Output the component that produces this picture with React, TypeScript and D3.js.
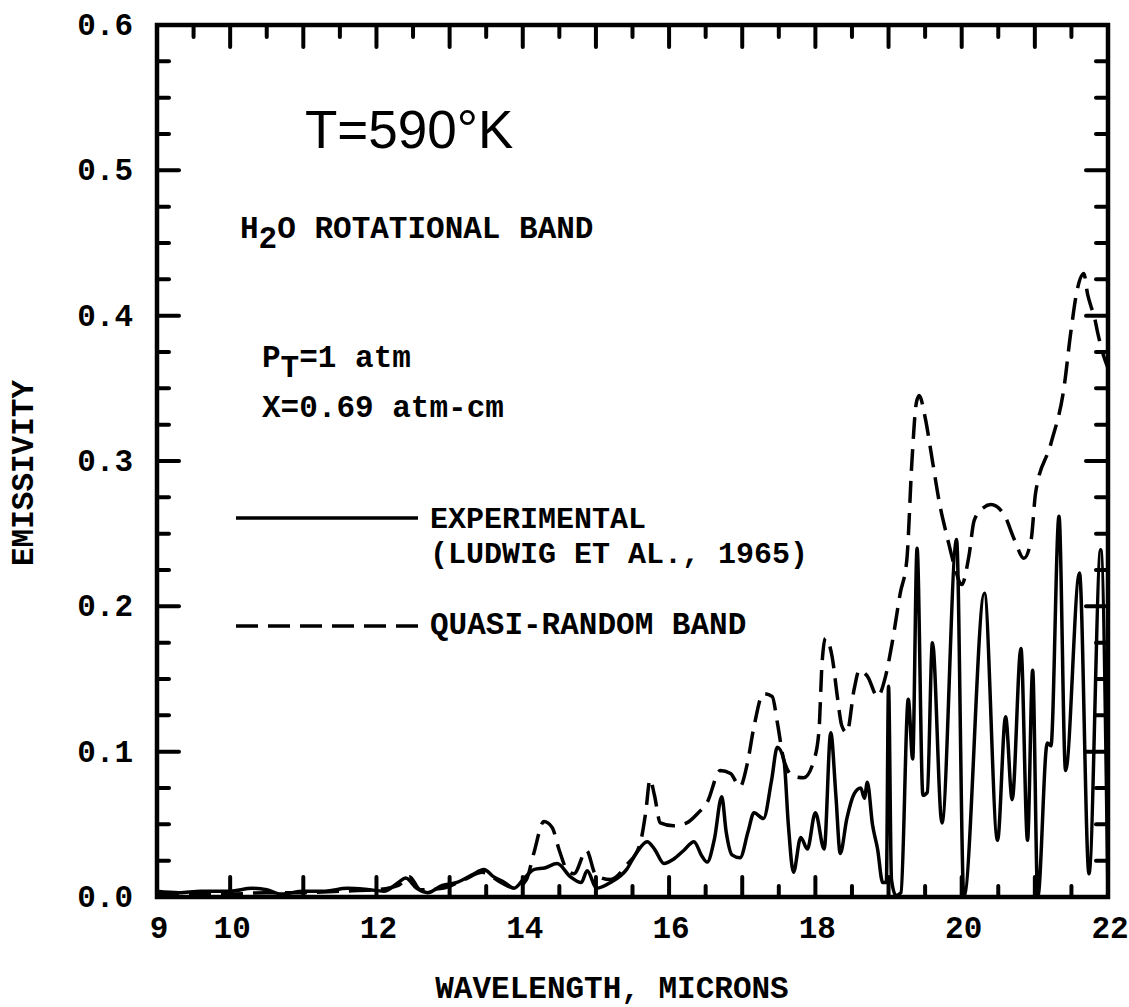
import React from "react";
import * as d3 from "d3";

// Experimental emissivity (Ludwig et al., 1965)
const expWavelength = [
  9.0, 9.3, 9.6, 10.0, 10.3, 10.5, 10.7, 11.0, 11.3, 11.6, 11.9, 12.1, 12.3, 12.4, 12.55, 12.7, 12.9,
  13.1, 13.3, 13.47, 13.6, 13.75, 13.88, 14.02, 14.16, 14.3, 14.47, 14.65, 14.8, 14.88, 15.01, 15.2,
  15.42, 15.55, 15.7, 15.8, 15.93, 16.06, 16.2, 16.34, 16.45, 16.52, 16.62, 16.72, 16.78, 16.86, 16.97,
  17.08, 17.16, 17.29, 17.4, 17.48, 17.57, 17.63, 17.7, 17.8, 17.89, 18.0, 18.12, 18.21, 18.28, 18.34,
  18.43, 18.53, 18.62, 18.67, 18.71, 18.78, 18.85, 18.92, 18.97, 19.0, 19.04, 19.1, 19.17, 19.27, 19.33,
  19.39, 19.47, 19.53, 19.6, 19.73, 19.93, 20.03, 20.31, 20.49, 20.6, 20.69, 20.81, 20.9, 20.97, 21.04,
  21.17, 21.22, 21.33, 21.42, 21.61, 21.74, 21.9, 22.0,
];
const expEmissivity = [
  0.004, 0.003, 0.004, 0.004, 0.006, 0.005, 0.002, 0.004, 0.004, 0.006, 0.005, 0.004, 0.01, 0.013, 0.006,
  0.003, 0.008, 0.01, 0.015, 0.019, 0.014, 0.01, 0.006, 0.013, 0.019, 0.02, 0.023, 0.014, 0.01, 0.018,
  0.006, 0.01, 0.019, 0.03, 0.038, 0.033, 0.023, 0.026, 0.032, 0.038, 0.028, 0.024, 0.04, 0.069, 0.045,
  0.029, 0.027, 0.045, 0.058, 0.054, 0.08, 0.103, 0.094, 0.05, 0.017, 0.041, 0.033, 0.058, 0.033, 0.113,
  0.07, 0.03, 0.054, 0.071, 0.075, 0.068, 0.079, 0.05, 0.033, 0.01, 0.01, 0.145, 0.012, 0.001, 0.003,
  0.136, 0.095, 0.24, 0.07, 0.072, 0.175, 0.051, 0.246, 0.0, 0.209, 0.039, 0.124, 0.067, 0.171, 0.039,
  0.156, 0.0, 0.106, 0.104, 0.262, 0.087, 0.223, 0.016, 0.239, 0.0,
];

// Quasi-random band model
const qrbWavelength = [
  9.0, 9.5, 10.0, 10.5, 11.0, 11.5, 12.0, 12.3, 12.45, 12.6, 12.9, 13.2, 13.45, 13.7, 13.9, 14.05, 14.15,
  14.29, 14.4, 14.5, 14.6, 14.7, 14.87, 15.0, 15.2, 15.42, 15.6, 15.68, 15.74, 15.8, 15.88, 16.06, 16.24,
  16.4, 16.52, 16.7, 16.84, 16.97, 17.07, 17.16, 17.29, 17.41, 17.48, 17.57, 17.7, 17.84, 17.98, 18.05,
  18.09, 18.14, 18.23, 18.3, 18.36, 18.43, 18.53, 18.6, 18.71, 18.85, 18.96, 19.05, 19.16, 19.25, 19.32,
  19.38, 19.42, 19.5, 19.6, 19.7, 19.8, 19.9, 20.0, 20.1, 20.17, 20.3, 20.4, 20.58, 20.72, 20.85, 20.95,
  21.01, 21.22, 21.4, 21.49, 21.58, 21.67, 21.72, 21.77, 21.81, 21.86, 21.93, 22.0,
];
const qrbEmissivity = [
  0.002, 0.002, 0.002, 0.003, 0.003, 0.004, 0.005, 0.008, 0.014, 0.005, 0.006, 0.012, 0.017, 0.01, 0.006,
  0.012, 0.03, 0.052, 0.048, 0.032, 0.019, 0.016, 0.032, 0.015, 0.012, 0.022, 0.036, 0.058, 0.081, 0.07,
  0.051, 0.049, 0.051, 0.058, 0.065, 0.087, 0.085, 0.076, 0.092, 0.117, 0.14, 0.138, 0.12, 0.094, 0.083,
  0.082, 0.094, 0.115, 0.16, 0.178, 0.165, 0.138, 0.118, 0.113, 0.143, 0.156, 0.152, 0.138, 0.152, 0.175,
  0.209, 0.232, 0.3, 0.34, 0.345, 0.33, 0.3, 0.27, 0.248, 0.228, 0.215, 0.235, 0.259, 0.268, 0.27, 0.263,
  0.246, 0.233, 0.246, 0.278, 0.312, 0.351, 0.388, 0.418, 0.429, 0.415, 0.406, 0.4, 0.388, 0.374, 0.364,
];

const xTickLabels = [9, 10, 12, 14, 16, 18, 20, 22];
const yTickLabels = [0, 0.1, 0.2, 0.3, 0.4, 0.5, 0.6];

const W = 1129;
const H = 1007;
const left = 157;
const right = 1108;
const top = 25;
const bottom = 897;

const mono = "'Liberation Mono', 'DejaVu Sans Mono', monospace";

export default function App() {
  const x = d3.scaleLinear().domain([9, 22]).range([left, right]);
  const y = d3.scaleLinear().domain([0, 0.6]).range([bottom, top]);

  const line = d3
    .line<[number, number]>()
    .x((d) => x(d[0]))
    .y((d) => y(d[1]))
    .curve(d3.curveMonotoneX);

  const expPts: [number, number][] = expWavelength.map((w, i) => [w, expEmissivity[i]]);
  const qrbPts: [number, number][] = qrbWavelength.map((w, i) => [w, qrbEmissivity[i]]);

  const xMinor = d3.range(9, 22.01, 0.5);
  const yMinor = d3.range(0, 0.6001, 0.025);

  const isInt = (v: number) => Math.abs(v - Math.round(v)) < 1e-6;
  const isTenth = (v: number) => Math.abs(v * 10 - Math.round(v * 10)) < 1e-6;

  return (
    <svg
      width={W}
      height={H}
      style={{ position: "absolute", left: 0, top: 0, background: "#fff" }}
      fontFamily={mono}
    >
      <rect x={0} y={0} width={W} height={H} fill="#fff" />

      {/* frame ticks */}
      <g stroke="#000" strokeWidth={4} strokeLinecap="round">
        {xMinor.map((v) => {
          const len = isInt(v) ? 22 : 12;
          return <line key={"t" + v} x1={x(v)} x2={x(v)} y1={top} y2={top + len} />;
        })}
        {xMinor
          .filter((v) => isInt(v) || v > 13)
          .map((v) => {
            const len = isInt(v) ? 20 : 11;
            return <line key={"b" + v} x1={x(v)} x2={x(v)} y1={bottom} y2={bottom - len} />;
          })}
        {yMinor.map((v) => {
          const len = isTenth(v) ? 22 : 12;
          return (
            <g key={"y" + v}>
              <line x1={left} x2={left + len} y1={y(v)} y2={y(v)} />
              <line x1={right} x2={right - len} y1={y(v)} y2={y(v)} />
            </g>
          );
        })}
      </g>

      {/* curves */}
      <path
        d={line(qrbPts) || ""}
        fill="none"
        stroke="#000"
        strokeWidth={3.5}
        strokeDasharray="22 10"
        strokeLinejoin="round"
      />
      <path
        d={line(expPts) || ""}
        fill="none"
        stroke="#000"
        strokeWidth={3.5}
        strokeLinejoin="round"
      />

      {/* frame */}
      <rect
        x={left}
        y={top}
        width={right - left}
        height={bottom - top}
        fill="none"
        stroke="#000"
        strokeWidth={4.5}
      />

      {/* tick labels */}
      <g fontSize={31} fontWeight="bold" fill="#000">
        {xTickLabels.map((v) => (
          <text key={"xl" + v} x={x(v) + 2} y={938} textAnchor="middle">
            {v}
          </text>
        ))}
        {yTickLabels.map((v) => (
          <text key={"yl" + v} x={133} y={y(v) + 10} textAnchor="end">
            {v.toFixed(1)}
          </text>
        ))}
      </g>

      {/* axis titles */}
      <text x={612} y={998} textAnchor="middle" fontSize={31} fontWeight="bold">
        WAVELENGTH, MICRONS
      </text>
      <text
        transform="translate(33,473) rotate(-90)"
        textAnchor="middle"
        fontSize={31}
        fontWeight="bold"
      >
        EMISSIVITY
      </text>

      {/* annotations */}
      <text x={305} y={148} fontFamily="'Liberation Sans', Arial, sans-serif" fontSize={53}>
        T=590°K
      </text>
      <text x={240} y={238} fontSize={31} fontWeight="bold">
        H<tspan dy={10}>2</tspan>
        <tspan dy={-10}>O ROTATIONAL BAND</tspan>
      </text>
      <text x={262} y={367} fontSize={31} fontWeight="bold">
        P<tspan dy={10}>T</tspan>
        <tspan dy={-10}>=1 atm</tspan>
      </text>
      <text x={262} y={417} fontSize={31} fontWeight="bold">
        X=0.69 atm-cm
      </text>

      {/* legend */}
      <line x1={236} x2={418} y1={518} y2={518} stroke="#000" strokeWidth={3.5} />
      <text x={430} y={528} fontSize={30} fontWeight="bold">
        EXPERIMENTAL
      </text>
      <text x={430} y={563} fontSize={30} fontWeight="bold">
        (LUDWIG ET AL., 1965)
      </text>
      <line
        x1={236}
        x2={418}
        y1={626}
        y2={626}
        stroke="#000"
        strokeWidth={3.5}
        strokeDasharray="22 10"
      />
      <text x={430} y={634} fontSize={31} fontWeight="bold">
        QUASI-RANDOM BAND
      </text>
    </svg>
  );
}
